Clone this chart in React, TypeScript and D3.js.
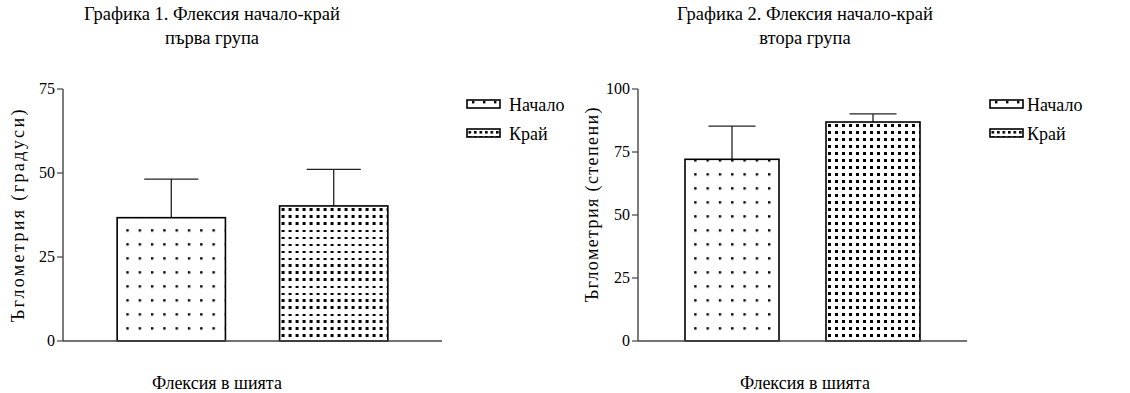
import React from "react";
import * as d3 from "d3";

const categories = ["Начало", "Край"];
const group1Means = [36.7, 40.2];
const group1Upper = [48.2, 51.1];
const group2Means = [72.1, 86.9];
const group2Upper = [85.3, 90.1];
const group1Ticks = [0, 25, 50, 75];
const group2Ticks = [0, 25, 50, 75, 100];
const titles1 = ["Графика 1. Флексия начало-край", "първа група"];
const titles2 = ["Графика 2. Флексия начало-край", "втора група"];
const yLabel1 = "Ъглометрия (градуси)";
const yLabel2 = "Ъглометрия (степени)";
const xLabel = "Флексия в шията";

const FONT = "Liberation Serif, Tinos, Times New Roman, Times, serif";

type PanelProps = {
  id: string;
  means: number[];
  upper: number[];
  ticks: number[];
  yMax: number;
  x0: number;
  x1: number;
  titleX: number;
  titles: string[];
  yLabel: string;
  yLabelX: number;
  yLabelY: number;
  yLabelLen: number;
  xLabelX: number;
  legendX: number;
  legendTextX: number;
};

function Panel(p: PanelProps) {
  const y = d3.scaleLinear().domain([0, p.yMax]).range([341, 89]);
  const x = d3
    .scaleBand<string>()
    .domain(categories)
    .range([p.x0, p.x1])
    .paddingInner(1 / 3)
    .paddingOuter(1 / 3);
  const bw = x.bandwidth();
  const axisColor = "#444";
  return (
    <g style={{ fontFamily: FONT }} fill="#000">
      <defs>
        {categories.map((c, i) => {
          const bx = x(c)!;
          if (i === 0) {
            return (
              <pattern
                key={c}
                id={`${p.id}-p${i}`}
                patternUnits="userSpaceOnUse"
                width={12.3}
                height={14}
                x={bx + 9.2}
                y={341 - 13.8}
              >
                <rect x={0} y={0} width={2.4} height={2.4} fill="#000" />
              </pattern>
            );
          }
          return (
            <pattern
              key={c}
              id={`${p.id}-p${i}`}
              patternUnits="userSpaceOnUse"
              width={7}
              height={7}
              x={bx + 2}
              y={341 - 7}
            >
              <rect x={0} y={0} width={3} height={3} fill="#000" />
            </pattern>
          );
        })}
        <pattern id={`${p.id}-l0`} patternUnits="userSpaceOnUse" width={11} height={8} x={p.legendX + 5} y={101}>
          <rect x={0} y={0} width={2.4} height={2.4} fill="#000" />
        </pattern>
        <pattern id={`${p.id}-l1`} patternUnits="userSpaceOnUse" width={5.5} height={5} x={p.legendX + 1.5} y={131}>
          <rect x={0} y={0} width={2.6} height={2.6} fill="#000" />
        </pattern>
      </defs>

      {p.titles.map((t, i) => (
        <text key={i} x={p.titleX} y={20 + i * 24} textAnchor="middle" fontSize={18.5}>
          {t}
        </text>
      ))}

      {categories.map((c, i) => {
        const bx = x(c)!;
        const cx = bx + bw / 2;
        return (
          <g key={c}>
            <line x1={cx} x2={cx} y1={y(p.means[i])} y2={y(p.upper[i])} stroke="#222" strokeWidth={1.3} />
            <line
              x1={cx - bw / 4}
              x2={cx + bw / 4}
              y1={y(p.upper[i])}
              y2={y(p.upper[i])}
              stroke="#222"
              strokeWidth={1.3}
            />
            <rect
              x={bx}
              y={y(p.means[i])}
              width={bw}
              height={y(0) - y(p.means[i])}
              fill="#fff"
            />
            <rect
              x={bx}
              y={y(p.means[i])}
              width={bw}
              height={y(0) - y(p.means[i])}
              fill={`url(#${p.id}-p${i})`}
              stroke="#000"
              strokeWidth={1.6}
            />
          </g>
        );
      })}

      <line x1={p.x0} x2={p.x0} y1={y(p.yMax)} y2={y(0)} stroke={axisColor} strokeWidth={1.4} />
      <line x1={p.x0} x2={p.x1} y1={y(0)} y2={y(0)} stroke={axisColor} strokeWidth={1.4} />
      {p.ticks.map((t) => (
        <g key={t}>
          <line x1={p.x0 - 6} x2={p.x0} y1={y(t)} y2={y(t)} stroke={axisColor} strokeWidth={1.2} />
          <text x={p.x0 - 8} y={y(t)} dy="0.34em" textAnchor="end" fontSize={16}>
            {t}
          </text>
        </g>
      ))}

      <text
        transform={`translate(${p.yLabelX},${p.yLabelY}) rotate(-90)`}
        textAnchor="middle"
        fontSize={18}
        textLength={p.yLabelLen}
        lengthAdjust="spacing"
      >
        {p.yLabel}
      </text>

      <text x={p.xLabelX} y={389} textAnchor="middle" fontSize={18}>
        {xLabel}
      </text>

      {categories.map((c, i) => (
        <g key={c}>
          <rect
            x={p.legendX}
            y={100 + i * 29}
            width={33}
            height={8}
            fill={`url(#${p.id}-l${i})`}
            stroke="#000"
            strokeWidth={1.6}
          />
          <text x={p.legendTextX} y={111 + i * 29} fontSize={18}>
            {c}
          </text>
        </g>
      ))}
    </g>
  );
}

export default function App() {
  return (
    <svg
      width={1130}
      height={393}
      style={{ position: "absolute", left: 0, top: 0, background: "#fff" }}
    >
      <rect width={1130} height={393} fill="#fff" />
      <Panel
        id="g1"
        means={group1Means}
        upper={group1Upper}
        ticks={group1Ticks}
        yMax={75}
        x0={63}
        x1={442}
        titleX={212}
        titles={titles1}
        yLabel={yLabel1}
        yLabelX={24}
        yLabelY={216}
        yLabelLen={213}
        xLabelX={217}
        legendX={467}
        legendTextX={509}
      />
      <Panel
        id="g2"
        means={group2Means}
        upper={group2Upper}
        ticks={group2Ticks}
        yMax={100}
        x0={638}
        x1={967}
        titleX={805}
        titles={titles2}
        yLabel={yLabel2}
        yLabelX={598}
        yLabelY={205}
        yLabelLen={195}
        xLabelX={805}
        legendX={990}
        legendTextX={1027}
      />
    </svg>
  );
}
